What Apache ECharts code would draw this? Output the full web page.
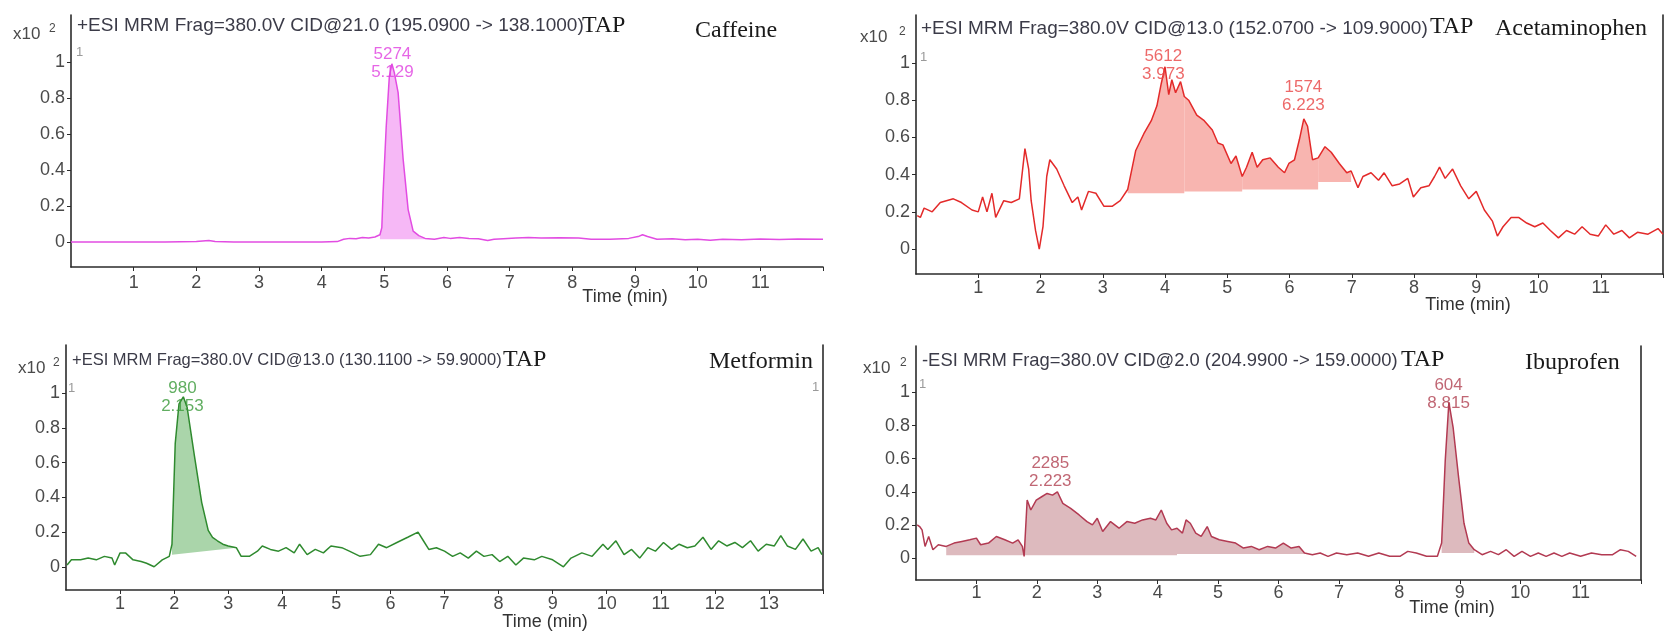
<!DOCTYPE html>
<html>
<head>
<meta charset="utf-8">
<script src="https://cdn.jsdelivr.net/npm/echarts@6/dist/echarts.min.js"></script>
<style>
  html, body { margin: 0; background: #fff; }
  #chart { width: 1669px; height: 631px; }
</style>
</head>
<body>
<div id="chart"></div>
<script>
// ---- data (x: min, y: counts x10^2) ----
const caffeineTime = [0.0,0.5,1.0,1.5,2.0,2.2,2.3,2.6,3.0,3.5,4.0,4.25,4.35,4.45,4.55,4.65,4.75,4.85,4.93,4.96,4.98,5.03,5.08,5.12,5.16,5.22,5.3,5.38,5.46,5.55,5.65,5.8,5.95,6.05,6.2,6.35,6.5,6.65,6.75,6.9,7.1,7.3,7.5,7.8,8.1,8.3,8.6,8.9,9.05,9.12,9.2,9.35,9.6,9.8,10.0,10.2,10.4,10.7,11.0,11.3,11.6,12.0];
const caffeineSignal = [0.0,0.0,0.0,0.0,0.002,0.008,0.003,0.0,0.0,0.0,0.0,0.002,0.015,0.02,0.018,0.025,0.022,0.028,0.04,0.08,0.27,0.64,0.92,0.99,0.94,0.83,0.46,0.18,0.06,0.035,0.02,0.015,0.025,0.02,0.025,0.02,0.018,0.008,0.015,0.018,0.022,0.025,0.022,0.024,0.022,0.015,0.015,0.02,0.03,0.04,0.03,0.015,0.018,0.012,0.015,0.01,0.015,0.012,0.016,0.014,0.016,0.015];

const acetaminophenTime = [0.02,0.07,0.13,0.26,0.39,0.6,0.73,0.9,1.0,1.07,1.14,1.22,1.28,1.41,1.53,1.66,1.75,1.81,1.85,1.92,1.98,2.04,2.1,2.15,2.26,2.38,2.51,2.6,2.66,2.77,2.89,3.02,3.15,3.28,3.4,3.53,3.66,3.78,3.87,3.94,4.0,4.06,4.11,4.17,4.25,4.31,4.38,4.51,4.63,4.76,4.85,4.93,5.06,5.14,5.24,5.31,5.4,5.48,5.57,5.69,5.82,5.92,5.99,6.08,6.16,6.23,6.29,6.37,6.46,6.57,6.67,6.8,6.92,6.99,7.1,7.18,7.31,7.43,7.52,7.65,7.77,7.9,7.99,8.11,8.24,8.33,8.41,8.5,8.62,8.75,8.88,9.0,9.13,9.26,9.34,9.43,9.56,9.68,9.81,9.94,10.07,10.19,10.32,10.45,10.58,10.7,10.83,10.96,11.08,11.21,11.34,11.46,11.59,11.76,11.92,12.0];
const acetaminophenSignal = [0.18,0.17,0.22,0.2,0.25,0.27,0.25,0.21,0.2,0.28,0.2,0.3,0.17,0.26,0.25,0.27,0.54,0.43,0.26,0.1,0.0,0.12,0.39,0.48,0.43,0.34,0.25,0.28,0.21,0.31,0.3,0.23,0.23,0.26,0.32,0.53,0.62,0.69,0.77,0.89,0.98,0.83,0.91,0.84,0.9,0.82,0.8,0.72,0.69,0.64,0.57,0.56,0.46,0.5,0.39,0.44,0.52,0.44,0.48,0.49,0.44,0.41,0.46,0.48,0.59,0.7,0.66,0.48,0.49,0.55,0.52,0.46,0.41,0.42,0.33,0.39,0.41,0.37,0.41,0.34,0.35,0.38,0.28,0.33,0.34,0.39,0.44,0.38,0.43,0.34,0.27,0.31,0.21,0.15,0.07,0.12,0.17,0.17,0.14,0.12,0.14,0.1,0.06,0.1,0.08,0.12,0.08,0.07,0.13,0.08,0.1,0.06,0.09,0.08,0.11,0.08];

const metforminTime = [0.02,0.1,0.27,0.41,0.56,0.71,0.85,0.9,1.0,1.1,1.24,1.39,1.49,1.63,1.78,1.91,1.96,2.02,2.09,2.17,2.24,2.37,2.51,2.63,2.71,2.8,2.9,3.0,3.15,3.24,3.39,3.54,3.63,3.78,3.93,4.07,4.22,4.32,4.46,4.61,4.76,4.9,5.1,5.24,5.44,5.63,5.78,5.93,6.12,6.32,6.51,6.61,6.71,6.85,7.0,7.15,7.29,7.44,7.59,7.73,7.88,8.02,8.17,8.32,8.46,8.66,8.8,9.0,9.2,9.34,9.54,9.73,9.93,10.02,10.17,10.32,10.46,10.61,10.76,10.9,11.05,11.2,11.34,11.49,11.63,11.78,11.93,12.07,12.22,12.37,12.51,12.66,12.8,12.95,13.1,13.22,13.34,13.49,13.63,13.78,13.91,13.98];
const metforminSignal = [0.01,0.04,0.04,0.05,0.04,0.06,0.05,0.01,0.08,0.08,0.04,0.03,0.02,0.0,0.04,0.06,0.13,0.71,0.94,0.98,0.92,0.65,0.37,0.21,0.17,0.15,0.13,0.12,0.11,0.06,0.06,0.09,0.12,0.1,0.09,0.11,0.08,0.13,0.07,0.1,0.08,0.12,0.11,0.09,0.06,0.07,0.13,0.11,0.14,0.17,0.2,0.15,0.1,0.11,0.09,0.06,0.08,0.05,0.09,0.06,0.07,0.03,0.06,0.01,0.05,0.04,0.06,0.04,0.0,0.05,0.08,0.06,0.13,0.1,0.15,0.07,0.1,0.05,0.11,0.09,0.14,0.1,0.13,0.11,0.12,0.17,0.1,0.15,0.12,0.14,0.11,0.15,0.09,0.13,0.12,0.18,0.12,0.1,0.16,0.09,0.11,0.07];

const ibuprofenTime = [0.02,0.06,0.1,0.15,0.21,0.28,0.37,0.5,0.63,0.76,0.89,1.0,1.07,1.2,1.33,1.47,1.6,1.69,1.76,1.79,1.84,1.9,1.99,2.08,2.17,2.26,2.34,2.43,2.56,2.7,2.83,2.92,3.0,3.09,3.22,3.36,3.49,3.62,3.75,3.88,3.97,4.06,4.15,4.23,4.32,4.41,4.47,4.54,4.63,4.72,4.82,4.89,5.02,5.16,5.29,5.42,5.55,5.68,5.82,5.95,6.08,6.21,6.34,6.43,6.56,6.69,6.82,6.96,7.13,7.31,7.49,7.66,7.84,8.01,8.14,8.28,8.45,8.63,8.7,8.76,8.82,8.89,8.98,9.07,9.15,9.24,9.37,9.51,9.64,9.77,9.9,10.03,10.17,10.3,10.43,10.56,10.69,10.82,11.0,11.18,11.35,11.53,11.66,11.79,11.92];
const ibuprofenSignal = [0.2,0.19,0.17,0.07,0.13,0.05,0.08,0.07,0.09,0.1,0.11,0.12,0.08,0.09,0.13,0.11,0.09,0.11,0.07,0.01,0.35,0.29,0.35,0.37,0.39,0.38,0.4,0.33,0.3,0.26,0.22,0.2,0.24,0.16,0.22,0.18,0.22,0.21,0.23,0.24,0.23,0.29,0.21,0.17,0.18,0.15,0.23,0.21,0.15,0.13,0.19,0.13,0.11,0.1,0.09,0.06,0.07,0.05,0.07,0.06,0.09,0.06,0.07,0.03,0.02,0.03,0.01,0.03,0.02,0.03,0.01,0.03,0.01,0.01,0.04,0.03,0.01,0.01,0.09,0.59,0.94,0.79,0.49,0.21,0.09,0.05,0.02,0.04,0.02,0.05,0.01,0.04,0.01,0.03,0.01,0.03,0.01,0.03,0.01,0.03,0.02,0.02,0.05,0.04,0.01];

// integrated regions: [from min, to min, baseline at start, baseline at end]
const caffeineFills = [[4.93, 5.65, 0.015, 0.015]];
const acetaminophenFills = [[3.4, 4.31, 0.30, 0.30], [4.31, 5.24, 0.31, 0.31], [5.24, 6.46, 0.32, 0.32], [6.46, 6.99, 0.36, 0.36]];
const metforminFills = [[1.96, 3.15, 0.07, 0.11]];
const ibuprofenFills = [[0.5, 4.32, 0.016, 0.016], [4.32, 6.43, 0.024, 0.024], [8.7, 9.24, 0.03, 0.03]];

// peak annotations: retention time, area, height where the label sits
const caffeinePeakRt = [5.129];
const caffeinePeakArea = [5274];
const caffeineLabelLevel = [0.99];
const acetaminophenPeakRt = [3.973, 6.223];
const acetaminophenPeakArea = [5612, 1574];
const acetaminophenLabelLevel = [0.99, 0.82];
const metforminPeakRt = [2.153];
const metforminPeakArea = [980];
const metforminLabelLevel = [0.98];
const ibuprofenPeakRt = [2.223, 8.815];
const ibuprofenPeakArea = [2285, 604];
const ibuprofenLabelLevel = [0.52, 0.99];

const yTicks = [0, 0.2, 0.4, 0.6, 0.8, 1];
const xTicks12 = [1, 2, 3, 4, 5, 6, 7, 8, 9, 10, 11];
const xTicks14 = [1, 2, 3, 4, 5, 6, 7, 8, 9, 10, 11, 12, 13];

const panels = [
  {
    time: caffeineTime, signal: caffeineSignal, fills: caffeineFills,
    rt: caffeinePeakRt, area: caffeinePeakArea, level: caffeineLabelLevel,
    grid: { left: 71, top: 15, width: 752, height: 252 },
    yMin: -0.139, yMax: 1.261, xMax: 12, xLabels: xTicks12, labelMargin: 7,
    line: "#e24ce2", fill: "#f6b8f6", label: "#e040e0", rightBorder: false,
  },
  {
    time: acetaminophenTime, signal: acetaminophenSignal, fills: acetaminophenFills,
    rt: acetaminophenPeakRt, area: acetaminophenPeakArea, level: acetaminophenLabelLevel,
    grid: { left: 916, top: 15, width: 747, height: 259 },
    yMin: -0.134, yMax: 1.258, xMax: 12, xLabels: xTicks12, labelMargin: 5,
    line: "#e32a2a", fill: "#f8b5b0", label: "#e84444", rightBorder: true,
  },
  {
    time: metforminTime, signal: metforminSignal, fills: metforminFills,
    rt: metforminPeakRt, area: metforminPeakArea, level: metforminLabelLevel,
    grid: { left: 66, top: 345, width: 757, height: 245 },
    yMin: -0.134, yMax: 1.279, xMax: 14, xLabels: xTicks14, labelMargin: 5,
    line: "#2f8a2f", fill: "#aad5aa", label: "#3a9a3a", rightBorder: true,
  },
  {
    time: ibuprofenTime, signal: ibuprofenSignal, fills: ibuprofenFills,
    rt: ibuprofenPeakRt, area: ibuprofenPeakArea, level: ibuprofenLabelLevel,
    grid: { left: 916, top: 346, width: 725, height: 234 },
    yMin: -0.133, yMax: 1.281, xMax: 12, xLabels: xTicks12, labelMargin: 4,
    line: "#b23a52", fill: "#ddbabe", label: "#b04050", rightBorder: true,
  },
];

const AXIS = "#2b2b2b";
const TICK_TEXT = "#4a4a4a";

const grid = [];
const xAxis = [];
const yAxis = [];
const series = [];

panels.forEach((p, i) => {
  grid.push(p.grid);

  xAxis.push({
    type: "value", gridIndex: i, min: 0, max: p.xMax,
    axisLine: { onZero: false, lineStyle: { color: AXIS, width: 1.6 } },
    axisTick: { length: 4, lineStyle: { color: AXIS }, customValues: p.xLabels.concat(p.xMax) },
    axisLabel: { customValues: p.xLabels, color: TICK_TEXT, fontSize: 18, margin: p.labelMargin,
      fontFamily: "Liberation Sans" },
    splitLine: { show: false },
  });

  yAxis.push({
    type: "value", gridIndex: i, min: p.yMin, max: p.yMax,
    axisLine: { show: true, onZero: false, lineStyle: { color: AXIS, width: 1.6 } },
    axisTick: { show: true, length: 4, lineStyle: { color: AXIS }, customValues: yTicks },
    axisLabel: { customValues: yTicks, color: TICK_TEXT, fontSize: 18, margin: 6,
      fontFamily: "Liberation Sans", formatter: (v) => String(v) },
    splitLine: { show: false },
  });
});

// right-hand frame lines
panels.forEach((p, i) => {
  if (!p.rightBorder) return;
  yAxis.push({
    type: "value", gridIndex: i, position: "right", min: p.yMin, max: p.yMax,
    axisLine: { show: true, onZero: false, lineStyle: { color: AXIS, width: 1.6 } },
    axisTick: { show: false }, axisLabel: { show: false }, splitLine: { show: false },
  });
});

panels.forEach((p, i) => {
  const pts = p.time.map((t, k) => [t, p.signal[k]]);

  // shaded integration areas
  series.push({
    type: "custom", xAxisIndex: i, yAxisIndex: i, z: 1, silent: true, clip: true,
    data: p.fills,
    renderItem: (params, api) => {
      const from = api.value(0), to = api.value(1);
      const poly = [];
      pts.forEach(([t, v]) => { if (t >= from && t <= to) poly.push(api.coord([t, v])); });
      poly.push(api.coord([to, api.value(3)]));
      poly.push(api.coord([from, api.value(2)]));
      return { type: "polygon", shape: { points: poly }, style: { fill: p.fill } };
    },
  });

  series.push({
    type: "line", xAxisIndex: i, yAxisIndex: i, z: 2, data: pts,
    showSymbol: false, silent: true,
    lineStyle: { color: p.line, width: 1.5 },
  });

  series.push({
    type: "scatter", xAxisIndex: i, yAxisIndex: i, z: 3, silent: true,
    symbolSize: 0, itemStyle: { color: "transparent" },
    data: p.rt.map((t, k) => [t, p.level[k], p.area[k]]),
    label: {
      show: true, position: "inside", color: p.label, fontSize: 17, lineHeight: 18,
      fontFamily: "Liberation Sans",
      formatter: (d) => d.value[2] + "\n" + d.value[0].toFixed(3),
    },
  });
});

// ---- text furniture ----
const SANS = '"Liberation Sans", Arial, sans-serif';
const SERIF = '"Liberation Serif", "Times New Roman", serif';
function txt(x, y, text, font, fill, align) {
  return {
    type: "text", x, y, silent: true,
    style: { text, font, fill, textAlign: align || "left", textVerticalAlign: "middle",
      align: align || "left", verticalAlign: "middle" },
  };
}

const graphic = [
  // panel titles
  txt(77, 26, "+ESI MRM Frag=380.0V CID@21.0 (195.0900 -> 138.1000)", "19px " + SANS, "#3b3b48"),
  txt(582, 26, "TAP", "24px " + SERIF, "#1a1a1a"),
  txt(695, 31, "Caffeine", "24px " + SERIF, "#1a1a1a"),

  txt(921, 29, "+ESI MRM Frag=380.0V CID@13.0 (152.0700 -> 109.9000)", "19px " + SANS, "#3b3b48"),
  txt(1430, 27, "TAP", "24px " + SERIF, "#1a1a1a"),
  txt(1495, 29, "Acetaminophen", "24px " + SERIF, "#1a1a1a"),

  txt(72, 360, "+ESI MRM Frag=380.0V CID@13.0 (130.1100 -> 59.9000)", "16.5px " + SANS, "#3b3b48"),
  txt(503, 360, "TAP", "24px " + SERIF, "#1a1a1a"),
  txt(709, 362, "Metformin", "24px " + SERIF, "#1a1a1a"),

  txt(922, 361, "-ESI MRM Frag=380.0V CID@2.0 (204.9900 -> 159.0000)", "18.4px " + SANS, "#3b3b48"),
  txt(1401, 360, "TAP", "24px " + SERIF, "#1a1a1a"),
  txt(1525, 363, "Ibuprofen", "24px " + SERIF, "#1a1a1a"),

  // y scale multiplier
  txt(13, 34, "x10", "17px " + SANS, TICK_TEXT),
  txt(49, 29, "2", "12px " + SANS, TICK_TEXT),
  txt(860, 37, "x10", "17px " + SANS, TICK_TEXT),
  txt(899, 32, "2", "12px " + SANS, TICK_TEXT),
  txt(18, 368, "x10", "17px " + SANS, TICK_TEXT),
  txt(53, 363, "2", "12px " + SANS, TICK_TEXT),
  txt(863, 368, "x10", "17px " + SANS, TICK_TEXT),
  txt(900, 363, "2", "12px " + SANS, TICK_TEXT),

  // x axis names
  txt(625, 297, "Time (min)", "18px " + SANS, "#333", "center"),
  txt(1468, 305, "Time (min)", "18px " + SANS, "#333", "center"),
  txt(545, 622, "Time (min)", "18px " + SANS, "#333", "center"),
  txt(1452, 608, "Time (min)", "18px " + SANS, "#333", "center"),

  // trace index marks
  txt(76, 52, "1", "13px " + SANS, "#9a9a9a"),
  txt(920, 57, "1", "13px " + SANS, "#9a9a9a"),
  txt(68, 388, "1", "13px " + SANS, "#9a9a9a"),
  txt(812, 387, "1", "13px " + SANS, "#9a9a9a"),
  txt(919, 384, "1", "13px " + SANS, "#9a9a9a"),
];

const chart = echarts.init(document.getElementById("chart"));
chart.setOption({
  animation: false,
  backgroundColor: "#ffffff",
  grid, xAxis, yAxis, series, graphic,
});
</script>
</body>
</html>
